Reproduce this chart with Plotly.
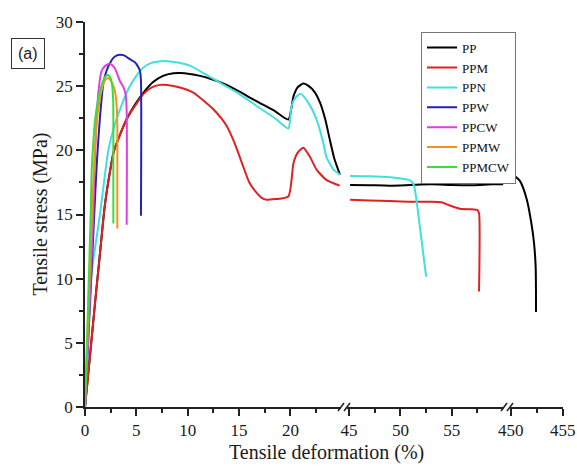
import plotly.graph_objects as go

# ---------------- data ----------------
series_names = ["PP", "PPM", "PPN", "PPW", "PPCW", "PPMW", "PPMCW"]
series_colors = ["#000000", "#DD2222", "#3EE0E0", "#2424B0", "#E03EE0", "#F39224", "#3CDC3C"]

# PP
pp_x1 = [0, 0.5, 1.0, 1.5, 1.9, 2.4, 2.8, 3.4, 4.1, 4.9, 5.7, 6.6, 7.6, 8.6, 9.3, 10.2, 11.2, 12.2,
         13.5, 15.0, 16.2, 17.0, 18.5, 19.8, 20.3, 20.7, 21.26, 21.8, 22.4, 22.9, 23.4, 23.85, 24.3, 24.83]
pp_y1 = [0, 4.1, 8.3, 12.3, 15.5, 18.2, 19.9, 21.2, 22.5, 23.6, 24.5, 25.3, 25.8, 26.0, 26.02, 25.95, 25.8, 25.58,
         25.2, 24.6, 24.05, 23.7, 23.05, 22.4, 24.2, 24.9, 25.2, 25.0, 24.5, 23.7, 22.4, 20.8, 19.3, 18.1]
pp_x2 = [45.1, 47.0, 49.0, 51.0, 53.0, 55.0, 57.0, 59.0, 60.0]
pp_y2 = [17.3, 17.28, 17.25, 17.3, 17.35, 17.3, 17.28, 17.35, 17.35]
pp_x3 = [450.1, 450.9, 451.55, 451.99, 452.24, 452.4, 452.43, 452.43]
pp_y3 = [18.2, 17.6, 16.15, 14.3, 12.8, 10.9, 9.0, 7.4]

# PPM
ppm_x1 = [0, 0.5, 1.0, 1.5, 1.9, 2.4, 2.8, 3.4, 4.1, 4.9, 5.7, 6.5, 7.3, 8.0, 9.25, 10.55, 11.2, 12.5,
          13.8, 14.6, 15.4, 16.0, 16.7, 17.2, 17.7, 18.5, 19.8, 20.3, 20.7, 21.26, 21.9, 22.55, 23.5, 24.8]
ppm_y1 = [0, 4.1, 8.3, 12.3, 15.5, 18.2, 19.9, 21.2, 22.5, 23.5, 24.4, 24.9, 25.1, 25.1, 24.9, 24.5, 24.1, 23.2,
          21.9, 20.5, 18.75, 17.5, 16.7, 16.3, 16.15, 16.2, 16.4, 19.0, 19.8, 20.2, 19.5, 18.5, 17.7, 17.25]
ppm_x2 = [45.1, 47.0, 49.0, 51.0, 52.9, 54.0, 54.8, 55.8, 57.0, 57.5, 57.65, 57.65]
ppm_y2 = [16.15, 16.1, 16.05, 16.0, 16.0, 15.95, 15.7, 15.45, 15.4, 15.35, 15.1, 9.0]

# PPN
ppn_x1 = [0, 0.65, 1.46, 2.27, 2.9, 3.6, 4.3, 5.0, 5.6, 6.4, 7.5, 8.5, 10.2, 12.2, 13.5, 15.0, 17.0,
          18.5, 19.8, 20.1, 20.5, 21.0, 21.75, 22.55, 23.2, 23.5, 24.2, 24.85]
ppn_y1 = [0, 10.4, 15.0, 20.0, 22.0, 23.6, 24.9, 25.8, 26.4, 26.8, 26.95, 26.9, 26.6, 25.7, 25.1, 24.4, 23.3,
          22.5, 21.7, 23.4, 24.1, 24.4, 23.7, 22.4, 20.6, 19.5, 18.5, 18.1]
ppn_x2 = [45.1, 47.0, 49.0, 50.5, 50.94, 51.3, 51.9, 52.5]
ppn_y2 = [18.0, 17.98, 17.9, 17.75, 17.66, 17.3, 14.0, 10.16]

# PPW
ppw_x = [0, 0.3, 0.6, 0.9, 1.15, 1.45, 1.8, 2.1, 2.43, 2.76, 3.1, 3.4, 3.8, 4.38, 4.8, 5.03, 5.35, 5.45, 5.45]
ppw_y = [0, 5, 10, 15, 19, 22.5, 25.3, 26.2, 26.8, 27.2, 27.4, 27.45, 27.4, 27.1, 26.9, 26.7, 26.2, 25.4, 14.9]

# PPCW
ppcw_x = [0, 0.3, 0.55, 0.8, 0.9, 1.05, 1.3, 1.62, 2.0, 2.43, 2.9, 3.4, 3.75, 3.96, 4.06, 4.06]
ppcw_y = [0, 5, 10, 15, 18, 21, 24.5, 26.2, 26.6, 26.75, 26.4, 25.4, 24.9, 24.35, 23.0, 14.2]

# PPMW
ppmw_x = [0, 0.35, 0.7, 0.9, 1.1, 1.4, 1.8, 2.1, 2.3, 2.6, 2.92, 3.08, 3.15, 3.15]
ppmw_y = [0, 8, 15.5, 19, 21.8, 23.8, 25.2, 25.6, 25.6, 25.3, 24.6, 23.5, 22.0, 13.9]

# PPMCW
ppmcw_x = [0, 0.3, 0.58, 0.65, 0.8, 0.97, 1.2, 1.46, 1.8, 2.1, 2.27, 2.5, 2.65, 2.74, 2.76, 2.76]
ppmcw_y = [0, 8, 15.8, 18.4, 20.5, 22.3, 23.6, 24.6, 25.5, 25.85, 25.86, 25.6, 25.0, 24.0, 23.0, 14.3]

x_major_1 = [0, 5, 10, 15, 20]
x_minor_1 = [2.5, 7.5, 12.5, 17.5, 22.5]
x_major_2 = [45, 50, 55]
x_minor_2 = [47.5, 52.5, 57.5]
x_major_3 = [450, 455]
x_minor_3 = [452.5]
y_major = [0, 5, 10, 15, 20, 25, 30]
y_minor = [2.5, 7.5, 12.5, 17.5, 22.5, 27.5]

# ---------------- figure ----------------
segments = {
    "PP": [(pp_x1, pp_y1, "x"), (pp_x2, pp_y2, "x2"), (pp_x3, pp_y3, "x3")],
    "PPM": [(ppm_x1, ppm_y1, "x"), (ppm_x2, ppm_y2, "x2")],
    "PPN": [(ppn_x1, ppn_y1, "x"), (ppn_x2, ppn_y2, "x2")],
    "PPW": [(ppw_x, ppw_y, "x")],
    "PPCW": [(ppcw_x, ppcw_y, "x")],
    "PPMW": [(ppmw_x, ppmw_y, "x")],
    "PPMCW": [(ppmcw_x, ppmcw_y, "x")],
}

fig = go.Figure()
for name, color in zip(series_names, series_colors):
    for i, (xs, ys, xa) in enumerate(segments[name]):
        fig.add_trace(go.Scatter(
            x=xs, y=ys, xaxis=xa, yaxis="y", mode="lines", name=name,
            legendgroup=name, showlegend=(i == 0),
            line=dict(color=color, width=2, shape="spline", smoothing=0.6),
        ))

serif = "Liberation Serif"
tickfont = dict(family=serif, size=17, color="#1a1a1a")

def xaxis_cfg(domain, rng, major, minor):
    return dict(
        domain=domain, range=rng, anchor="y", automargin=False,
        showline=True, linecolor="#222", linewidth=1.5,
        ticks="outside", ticklen=7, tickwidth=1.5, tickcolor="#222",
        tickmode="array", tickvals=major, ticktext=[str(v) for v in major],
        minor=dict(tickmode="array", tickvals=minor, ticks="outside", ticklen=4,
                   tickwidth=1.5, tickcolor="#222", showgrid=False),
        showgrid=False, zeroline=False, tickfont=tickfont,
    )

W, H = 577, 470
ml, mr, mt, mb = 85, 14, 22, 63
pw = W - ml - mr

def px2paper(px):
    return (px - ml) / pw

fig.update_layout(
    width=W, height=H,
    margin=dict(l=ml, r=mr, t=mt, b=mb, autoexpand=False),
    paper_bgcolor="white", plot_bgcolor="white",
    xaxis=xaxis_cfg([0, px2paper(341)], [0, 24.93], x_major_1, x_minor_1),
    xaxis2=xaxis_cfg([px2paper(347), px2paper(504)], [44.8, 60.08], x_major_2, x_minor_2),
    xaxis3=xaxis_cfg([px2paper(510), 1], [449.93, 455.03], x_major_3, x_minor_3),
    yaxis=dict(
        range=[0, 30], anchor="x", automargin=False,
        showline=True, linecolor="#222", linewidth=1.5,
        ticks="outside", ticklen=7, tickwidth=1.5, tickcolor="#222",
        tickmode="array", tickvals=y_major,
        minor=dict(tickmode="array", tickvals=y_minor, ticks="outside", ticklen=4,
                   tickwidth=1.5, tickcolor="#222", showgrid=False),
        showgrid=False, zeroline=False, tickfont=tickfont,
    ),
    legend=dict(
        x=px2paper(421), y=0.975, xanchor="left", yanchor="top",
        bgcolor="white", bordercolor="#777", borderwidth=1,
        font=dict(family=serif, size=13, color="#111"),
        tracegroupgap=0, itemwidth=30,
    ),
    showlegend=True,
)

# axis break marks
shapes = []
for xp in [px2paper(341), px2paper(347), px2paper(504), px2paper(510)]:
    shapes.append(dict(type="line", xref="paper", yref="paper",
                       xsizemode="pixel", ysizemode="pixel",
                       xanchor=xp, yanchor=0, x0=-3, x1=3, y0=-4, y1=4,
                       line=dict(color="#222", width=1.5)))
fig.update_layout(shapes=shapes)

fig.add_annotation(text="Tensile deformation (%)", xref="paper", yref="paper",
                   x=px2paper(326), y=(H - mb - 452) / (H - mt - mb),
                   xanchor="center", yanchor="middle", showarrow=False,
                   font=dict(family=serif, size=20, color="#1a1a1a"))
fig.add_annotation(text="Tensile stress (MPa)", xref="paper", yref="paper",
                   x=px2paper(40), y=0.5, textangle=-90,
                   xanchor="center", yanchor="middle", showarrow=False,
                   font=dict(family=serif, size=20, color="#1a1a1a"))
fig.add_annotation(text="(a)", xref="paper", yref="paper",
                   x=px2paper(27.5), y=(H - mb - 53) / (H - mt - mb),
                   xanchor="center", yanchor="middle", showarrow=False,
                   bordercolor="#333", borderwidth=1, borderpad=6, bgcolor="white",
                   font=dict(family="Liberation Sans", size=16, color="#222"))

fig.write_html("out.html")
